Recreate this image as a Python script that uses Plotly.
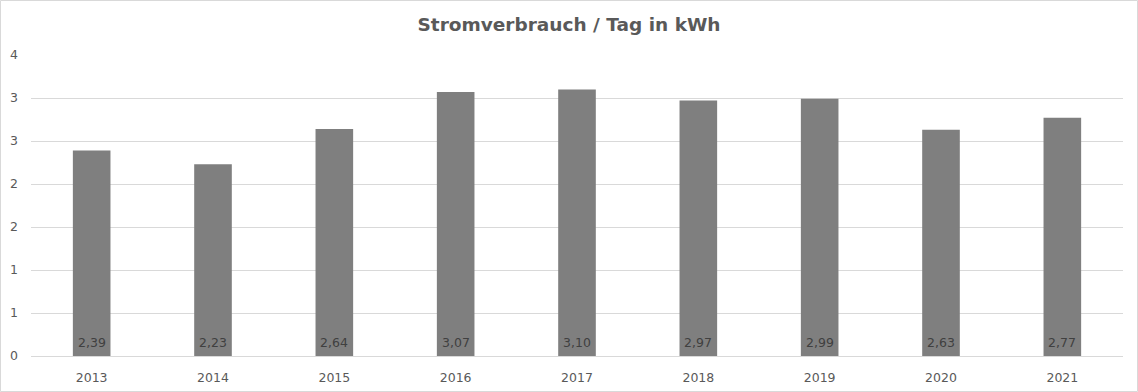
import plotly.graph_objects as go

years = ["2013", "2014", "2015", "2016", "2017", "2018", "2019", "2020", "2021"]
values = [2.39, 2.23, 2.64, 3.07, 3.10, 2.97, 2.99, 2.63, 2.77]
labels = ["2,39", "2,23", "2,64", "3,07", "3,10", "2,97", "2,99", "2,63", "2,77"]
y_tickvals = [0, 0.5, 1, 1.5, 2, 2.5, 3, 3.5]
y_ticktext = ["0", "1", "1", "2", "2", "3", "3", "4"]

W, H = 1138, 392
ml, mr, mt, mb = 31, 15, 55, 36

fig = go.Figure(go.Bar(
    x=years, y=values,
    marker=dict(color="#7f7f7f", line=dict(width=0)),
    width=0.31,
    hoverinfo="skip",
))

# category axis: annotations are positioned by category index
for i, lab in enumerate(labels):
    fig.add_annotation(x=i, y=0, text=lab, showarrow=False,
                       yanchor="middle", yshift=14,
                       font=dict(family="DejaVu Sans", size=12.5, color="#404040"))

pw = W - ml - mr
ph = H - mt - mb
fig.add_shape(type="rect", xref="paper", yref="paper",
              x0=(0.5 - ml) / pw, x1=(W - 0.5 - ml) / pw,
              y0=-(mb - 0.5) / ph, y1=(H - 0.5 - mb) / ph,
              line=dict(color="#d9d9d9", width=1), layer="below")

fig.update_layout(
    width=W, height=H,
    margin=dict(l=ml, r=mr, t=mt, b=mb),
    paper_bgcolor="white", plot_bgcolor="white",
    title=dict(text="<b>Stromverbrauch / Tag in kWh</b>", x=0.5, xanchor="center",
               y=1 - 25 / H, yanchor="middle",
               font=dict(family="DejaVu Sans", size=18.5, color="#595959")),
    font=dict(family="DejaVu Sans", size=12.5, color="#595959"),
    showlegend=False,
    xaxis=dict(type="category", range=[-0.5, len(years) - 0.5],
               showgrid=False, showline=True, linecolor="#d9d9d9", linewidth=1,
               ticks="", ticklabelstandoff=10, automargin=False,
               tickfont=dict(size=12.5, color="#595959")),
    yaxis=dict(range=[0, 3.5], tickvals=y_tickvals, ticktext=y_ticktext,
               showgrid=True, gridcolor="#d9d9d9", gridwidth=1,
               zeroline=False, showline=False, ticks="",
               ticklabelstandoff=12, automargin=False,
               tickfont=dict(size=12.5, color="#595959")),
)

fig.write_html("out.html")
